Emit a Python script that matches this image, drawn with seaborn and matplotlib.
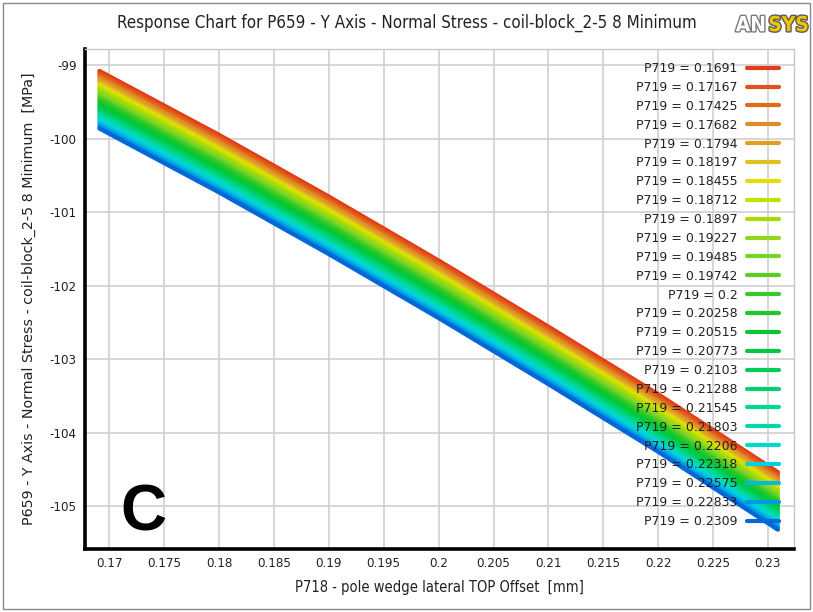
import matplotlib
matplotlib.use("Agg")
import matplotlib.pyplot as plt
import matplotlib.patheffects as pe
from matplotlib.patches import Rectangle
import pandas as pd
import seaborn as sns

# P718 - pole wedge lateral TOP Offset (mm), sample positions along each curve
p718 = [0.1691, 0.18, 0.19, 0.2, 0.21, 0.22, 0.2309]

# P719 levels (legend order)
p719 = ["0.1691", "0.17167", "0.17425", "0.17682", "0.1794", "0.18197", "0.18455",
        "0.18712", "0.1897", "0.19227", "0.19485", "0.19742", "0.2", "0.20258",
        "0.20515", "0.20773", "0.2103", "0.21288", "0.21545", "0.21803", "0.2206",
        "0.22318", "0.22575", "0.22833", "0.2309"]

# P659 - Y Axis - Normal Stress - coil-block_2-5 8 Minimum (MPa), one list per P719 level
s01 = [-99.080, -99.950, -100.790, -101.660, -102.560, -103.480, -104.540]
s02 = [-99.113, -99.983, -100.823, -101.693, -102.593, -103.513, -104.573]
s03 = [-99.145, -100.015, -100.855, -101.725, -102.625, -103.545, -104.605]
s04 = [-99.178, -100.048, -100.888, -101.758, -102.658, -103.578, -104.638]
s05 = [-99.210, -100.080, -100.920, -101.790, -102.690, -103.610, -104.670]
s06 = [-99.243, -100.113, -100.953, -101.823, -102.723, -103.643, -104.703]
s07 = [-99.275, -100.145, -100.985, -101.855, -102.755, -103.675, -104.735]
s08 = [-99.308, -100.178, -101.018, -101.888, -102.788, -103.708, -104.768]
s09 = [-99.340, -100.210, -101.050, -101.920, -102.820, -103.740, -104.800]
s10 = [-99.373, -100.243, -101.083, -101.953, -102.853, -103.773, -104.833]
s11 = [-99.405, -100.275, -101.115, -101.985, -102.885, -103.805, -104.865]
s12 = [-99.438, -100.308, -101.148, -102.018, -102.918, -103.838, -104.898]
s13 = [-99.470, -100.340, -101.180, -102.050, -102.950, -103.870, -104.930]
s14 = [-99.503, -100.373, -101.213, -102.083, -102.983, -103.903, -104.963]
s15 = [-99.535, -100.405, -101.245, -102.115, -103.015, -103.935, -104.995]
s16 = [-99.568, -100.438, -101.278, -102.148, -103.048, -103.968, -105.028]
s17 = [-99.600, -100.470, -101.310, -102.180, -103.080, -104.000, -105.060]
s18 = [-99.633, -100.503, -101.343, -102.213, -103.113, -104.033, -105.093]
s19 = [-99.665, -100.535, -101.375, -102.245, -103.145, -104.065, -105.125]
s20 = [-99.698, -100.568, -101.408, -102.278, -103.178, -104.098, -105.158]
s21 = [-99.730, -100.600, -101.440, -102.310, -103.210, -104.130, -105.190]
s22 = [-99.763, -100.633, -101.473, -102.343, -103.243, -104.163, -105.223]
s23 = [-99.795, -100.665, -101.505, -102.375, -103.275, -104.195, -105.255]
s24 = [-99.828, -100.698, -101.538, -102.408, -103.308, -104.228, -105.288]
s25 = [-99.860, -100.730, -101.570, -102.440, -103.340, -104.260, -105.320]
stress = [s01, s02, s03, s04, s05, s06, s07, s08, s09, s10, s11, s12, s13,
          s14, s15, s16, s17, s18, s19, s20, s21, s22, s23, s24, s25]

xticks = [0.17, 0.175, 0.18, 0.185, 0.19, 0.195, 0.2, 0.205, 0.21, 0.215, 0.22, 0.225, 0.23]
xtick_labels = ["0.17", "0.175", "0.18", "0.185", "0.19", "0.195", "0.2", "0.205",
                "0.21", "0.215", "0.22", "0.225", "0.23"]
yticks = [-99, -100, -101, -102, -103, -104, -105]
ytick_labels = ["-99", "-100", "-101", "-102", "-103", "-104", "-105"]

# rainbow colours used by the response chart, red -> blue
warna = ["#e03c18", "#e0521a", "#e06a18", "#e08c2c", "#e0a020", "#e0c020", "#e0e000",
         "#c4e000", "#a8dc00", "#90d820", "#78d428", "#58d020", "#38c828", "#20c828",
         "#08c830", "#00c840", "#00cc58", "#00d070", "#00d890", "#00d8a8", "#00d8c8",
         "#00d0e0", "#00b8e0", "#0098e0", "#0068d8"]

# long-form table for seaborn
rows = []
for lvl, vals in zip(p719, stress):
    for xv, yv in zip(p718, vals):
        rows.append({"P718": xv, "P659": yv, "P719": "P719 = " + lvl})
df = pd.DataFrame(rows)
hue_order = ["P719 = " + lvl for lvl in p719]

sns.set_theme(style="whitegrid")
plt.rcParams["font.family"] = ["DejaVu Sans"]
plt.rcParams["axes.unicode_minus"] = False

fig = plt.figure(figsize=(8.13, 6.12), dpi=100)
ax = fig.add_axes([0.1046, 0.1029, 0.872, 0.817])

sns.lineplot(data=df, x="P718", y="P659", hue="P719", hue_order=hue_order,
             palette=warna, linewidth=3.2, estimator=None, sort=False, ax=ax)

ax.set_xlim(0.16779, 0.23237)
ax.set_ylim(-105.585, -98.78)
ax.set_xticks(xticks)
ax.set_xticklabels(xtick_labels, fontsize=9.5, color="#222222", fontstretch="condensed")
ax.set_yticks(yticks)
ax.set_yticklabels(ytick_labels, fontsize=9.5, color="#222222", fontstretch="condensed")
ax.tick_params(length=0, pad=6)
ax.grid(True, color="#d0d0d0", linewidth=1.2)
ax.set_facecolor("white")

for s in ["left", "bottom"]:
    ax.spines[s].set_color("black")
    ax.spines[s].set_linewidth(2.6)
for s in ["top", "right"]:
    ax.spines[s].set_color("#c8c8c8")
    ax.spines[s].set_linewidth(1.0)

ax.set_xlabel("P718 - pole wedge lateral TOP Offset  [mm]", fontsize=10.5,
              color="#222222", labelpad=7, fontstretch="condensed")
ax.set_ylabel("P659 - Y Axis - Normal Stress - coil-block_2-5 8 Minimum  [MPa]",
              fontsize=10.3, color="#222222", labelpad=10)

# legend: text on the left, line on the right, no frame
leg = ax.get_legend()
handles = leg.legend_handles
labels = [t.get_text() for t in leg.get_texts()]
leg.remove()
for h in handles:
    h.set_linewidth(3)
ax.legend(handles, labels, loc="upper right", bbox_to_anchor=(0.979, 0.974),
          frameon=False, markerfirst=False, fontsize=9, handlelength=2.6,
          handletextpad=0.7, labelspacing=0.47, borderpad=0, borderaxespad=0,
          labelcolor="#222222")

# big "C" panel mark
ax.text(0.083, 0.038, "C", transform=ax.transAxes, fontsize=46, fontweight="bold",
        family="Liberation Sans", ha="center", va="baseline", color="black")

fig.text(0.5, 0.962, "Response Chart for P659 - Y Axis - Normal Stress - coil-block_2-5 8 Minimum",
         ha="center", va="center", fontsize=12.2, color="#222222", fontstretch="condensed")

# ANSYS logo-ish
fig.text(0.905, 0.949, "AN", fontsize=15, fontweight="bold", color="white",
         fontstretch="condensed", ha="left", va="baseline",
         path_effects=[pe.withStroke(linewidth=2, foreground="#7a7a7a")])
fig.text(0.945, 0.949, "SYS", fontsize=15, fontweight="bold", color="#f0c400",
         fontstretch="condensed", ha="left", va="baseline",
         path_effects=[pe.withStroke(linewidth=2, foreground="#5a5a5a")])

# outer frame of the chart image
fig.patches.append(Rectangle((0.004, 0.005), 0.992, 0.99, transform=fig.transFigure,
                             fill=False, edgecolor="#8a8a8a", linewidth=1))

fig.savefig("out.png", dpi=100)
